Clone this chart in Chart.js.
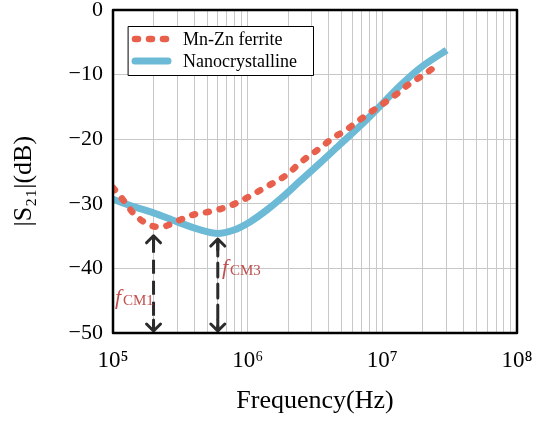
<!DOCTYPE html>
<html>
<head>
<meta charset="utf-8">
<script src="https://cdn.jsdelivr.net/npm/chart.js@4/dist/chart.umd.min.js"></script>
<style>
  html, body { margin: 0; padding: 0; background: #fff; }
  #wrap { width: 546px; height: 421px; }
</style>
</head>
<body>
<div id="wrap"><canvas id="s21Chart" width="546" height="421"></canvas></div>
<script>
// Mn-Zn ferrite curve (frequency in Hz, |S21| in dB)
const ferriteFreq = [1e5, 1.19e5, 1.41e5, 1.79e5, 2.23e5, 2.5e5, 3.14e5, 3.93e5, 5.25e5, 7e5, 9.2e5,
    1.17e6, 1.54e6, 1.95e6, 2.5e6, 3.44e6, 4.3e6, 5.37e6, 6.6e6, 8.2e6, 1.03e7, 1.28e7, 1.55e7, 1.97e7, 2.5e7];
const ferriteDb = [-27.5, -29.4, -31.4, -33.1, -33.6, -33.4, -32.5, -31.7, -31.2, -30.5, -29.4,
    -28.2, -26.8, -25.5, -23.5, -21.4, -19.8, -18.6, -17.2, -15.8, -14.4, -13.0, -11.6, -10.2, -8.7];

// Nanocrystalline curve
const nanoFreq = [1e5, 1.4e5, 2e5, 3e5, 4.4e5, 6e5, 7.8e5, 1.04e6, 1.4e6, 1.83e6, 2.44e6,
    3.44e6, 4.8e6, 6.8e6, 9.6e6, 1.34e7, 1.9e7, 3e7];
const nanoDb = [-29.3, -30.4, -31.4, -32.8, -34.0, -34.6, -34.1, -32.8, -30.9, -28.9, -26.5,
    -23.7, -20.9, -18.0, -14.9, -11.8, -9.0, -6.2];

// marker arrows for the common-mode frequencies
const markerFreq = [2e5, 6e5];
const markerTopDb = [-34.8, -35.3];
const markerNames = ['CM1', 'CM3'];
const markerLabelDb = [-45.5, -40.8];

const seriesLabels = ['Mn-Zn ferrite', 'Nanocrystalline'];
const decades = [5, 6, 7, 8];
const yTicks = [0, -10, -20, -30, -40, -50];

const supDigits = { '5': '\u2075', '6': '\u2076', '7': '\u2077', '8': '\u2078' };

function toPoints(xs, ys) {
    return xs.map((x, i) => ({ x: x, y: ys[i] }));
}

const serif = '"Liberation Serif", "Times New Roman", serif';

// frame, legend and arrow annotations
const extrasPlugin = {
    id: 'extras',
    afterDatasetsDraw(chart) {
        const ctx = chart.ctx;
        const xs = chart.scales.x;
        const ys = chart.scales.y;
        const area = chart.chartArea;

        ctx.save();
        // dashed double arrows
        markerFreq.forEach((f, i) => {
            const px = xs.getPixelForValue(f);
            const top = ys.getPixelForValue(markerTopDb[i]);
            const bot = ys.getPixelForValue(-50) - 1;
            ctx.strokeStyle = '#2b2b2b';
            ctx.lineWidth = 3;
            ctx.setLineDash([14, 7]);
            ctx.beginPath();
            ctx.moveTo(px, top + 4);
            ctx.lineTo(px, bot - 4);
            ctx.stroke();
            ctx.setLineDash([]);
            ctx.lineCap = 'round';
            ctx.lineJoin = 'round';
            ctx.beginPath();
            ctx.moveTo(px - 7, top + 8);
            ctx.lineTo(px, top + 1);
            ctx.lineTo(px + 7, top + 8);
            ctx.moveTo(px, top + 1);
            ctx.lineTo(px, top + 12);
            ctx.stroke();
            ctx.beginPath();
            ctx.moveTo(px - 7, bot - 8);
            ctx.lineTo(px, bot - 1);
            ctx.lineTo(px + 7, bot - 8);
            ctx.moveTo(px, bot - 1);
            ctx.lineTo(px, bot - 12);
            ctx.stroke();
        });

        // f_CM labels
        const labelX = [115, 222];
        markerFreq.forEach((f, i) => {
            const py = ys.getPixelForValue(markerLabelDb[i]);
            ctx.fillStyle = '#c0504d';
            ctx.textBaseline = 'alphabetic';
            ctx.textAlign = 'left';
            ctx.font = 'italic 22px ' + serif;
            ctx.fillText('f', labelX[i], py);
            ctx.font = '15px ' + serif;
            ctx.fillText(markerNames[i], labelX[i] + 8, py + 1);
        });

        // legend box
        const lx = 128, ly = 26, lw = 185, lh = 49;
        ctx.fillStyle = '#fff';
        ctx.fillRect(lx, ly, lw, lh);
        ctx.strokeStyle = '#000';
        ctx.lineWidth = 1;
        ctx.strokeRect(lx + 0.5, ly + 0.5, lw, lh);
        chart.data.datasets.forEach((ds, i) => {
            const yy = ly + 13 + i * 22;
            ctx.strokeStyle = ds.borderColor;
            ctx.lineWidth = ds.borderWidth;
            ctx.lineCap = 'round';
            ctx.setLineDash(ds.borderDash || []);
            ctx.beginPath();
            ctx.moveTo(lx + 7, yy);
            ctx.lineTo(lx + 40, yy);
            ctx.stroke();
            ctx.setLineDash([]);
            ctx.fillStyle = '#000';
            ctx.font = '18px ' + serif;
            ctx.textBaseline = 'middle';
            ctx.fillText(ds.label, lx + 55, yy + 1);
        });

        // black frame
        ctx.strokeStyle = '#000';
        ctx.lineWidth = 2.5;
        ctx.strokeRect(area.left, area.top, area.right - area.left, area.bottom - area.top);
        ctx.restore();
    }
};

const ctx = document.getElementById('s21Chart').getContext('2d');

new Chart(ctx, {
    type: 'line',
    data: {
        datasets: [
            {
                label: seriesLabels[0],
                data: toPoints(ferriteFreq, ferriteDb),
                borderColor: '#e8604c',
                borderWidth: 6.5,
                borderDash: [3, 11],
                borderCapStyle: 'round',
                pointRadius: 0,
                tension: 0.4,
                cubicInterpolationMode: 'monotone',
                fill: false
            },
            {
                label: seriesLabels[1],
                data: toPoints(nanoFreq, nanoDb),
                borderColor: '#6cbad6',
                borderWidth: 7,
                pointRadius: 0,
                tension: 0.4,
                cubicInterpolationMode: 'monotone',
                fill: false
            }
        ]
    },
    options: {
        responsive: false,
        animation: false,
        layout: { padding: { top: 10, right: 29, left: 0, bottom: 0 } },
        plugins: {
            legend: { display: false },
            tooltip: { enabled: false }
        },
        scales: {
            x: {
                type: 'logarithmic',
                min: 1e5,
                max: 1e8,
                afterBuildTicks(scale) {
                    const t = [];
                    decades.forEach(d => {
                        const base = Math.pow(10, d);
                        for (let m = 1; m <= (d === 8 ? 1 : 9); m++) t.push({ value: m * base });
                    });
                    scale.ticks = t;
                },
                afterFit(scale) {
                    scale.height = 88;
                    scale.paddingLeft = 0;
                    scale.paddingRight = 0;
                },
                ticks: {
                    autoSkip: false,
                    maxRotation: 0,
                    padding: 14,
                    color: '#000',
                    font: { family: serif, size: 23 },
                    callback(value) {
                        const e = Math.round(Math.log10(value));
                        if (Math.abs(Math.log10(value) - e) > 1e-6) return '';
                        return '10' + supDigits[String(e)];
                    }
                },
                grid: { color: '#c8c8c8', lineWidth: 1, drawTicks: false },
                border: { display: false },
                title: {
                    display: true,
                    text: 'Frequency(Hz)',
                    color: '#000',
                    font: { family: serif, size: 26 },
                    padding: { top: 8 }
                }
            },
            y: {
                min: -50,
                max: 0,
                afterBuildTicks(scale) {
                    scale.ticks = yTicks.map(v => ({ value: v }));
                },
                afterFit(scale) {
                    scale.width = 113;
                    scale.paddingTop = 0;
                    scale.paddingBottom = 0;
                },
                ticks: {
                    padding: 10,
                    color: '#000',
                    font: { family: serif, size: 22 },
                    callback(value) {
                        return value === 0 ? '0' : '\u2212' + Math.abs(value);
                    }
                },
                grid: { color: '#c8c8c8', lineWidth: 1, drawTicks: false },
                border: { display: false },
                title: {
                    display: true,
                    text: '|S\u2082\u2081|(dB)   ',
                    color: '#000',
                    font: { family: serif, size: 26 },
                    padding: { top: 9, bottom: 0 }
                }
            }
        }
    },
    plugins: [extrasPlugin]
});
</script>
</body>
</html>
